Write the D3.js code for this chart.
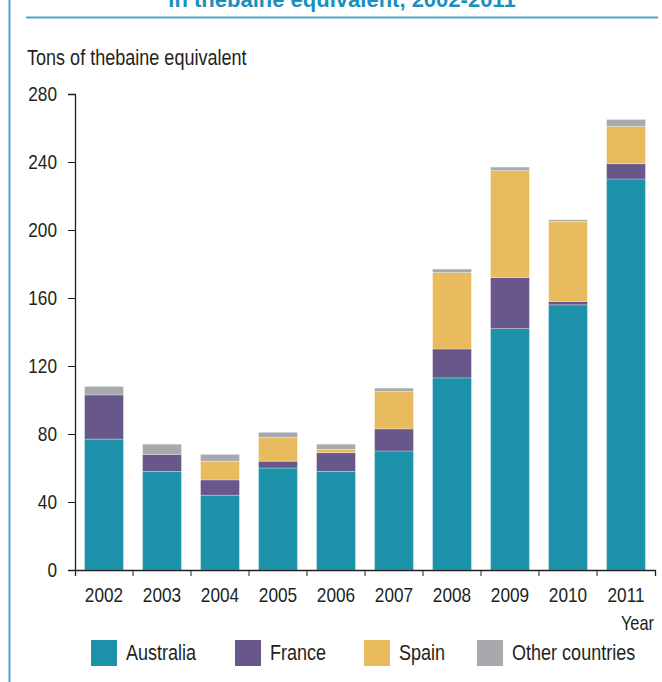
<!DOCTYPE html>
<html>
<head>
<meta charset="utf-8">
<script src="https://cdn.jsdelivr.net/npm/d3@7"></script>
<style>
  html, body { margin: 0; padding: 0; background: #fff; }
  svg { display: block; }
  text { font-family: "Liberation Sans", Arial, sans-serif; fill: #231f20; }
</style>
</head>
<body>
<svg id="chart" width="662" height="682"></svg>
<script>
const years = ["2002","2003","2004","2005","2006","2007","2008","2009","2010","2011"];
const seriesNames = ["Australia","France","Spain","Other countries"];
const australia = [77, 58, 44, 60, 58, 70, 113, 142, 156, 230];
const france    = [26, 10,  9,  4, 11, 13,  17,  30,   2,   9];
const spain     = [ 0,  0, 11, 14,  2, 22,  45,  63,  47,  22];
const other     = [ 5,  6,  4,  3,  3,  2,   2,   2,   1,   4];
const yTicks = [0, 40, 80, 120, 160, 200, 240, 280];
const colors = ["#1b92a9", "#68578a", "#e8bb5f", "#a8a9ad"];
const titleText = "in thebaine equivalent, 2002-2011";
const yTitle = "Tons of thebaine equivalent";
const xTitle = "Year";

const NARROW = 0.82; // emulate a condensed face by horizontal scaling
function condense(sel) {
  sel.each(function () {
    const t = d3.select(this);
    const xv = +t.attr("x") || 0;
    t.attr("x", xv / NARROW).attr("transform", `scale(${NARROW},1)`);
  });
}

const table = years.map((y, i) => ({
  year: y,
  "Australia": australia[i],
  "France": france[i],
  "Spain": spain[i],
  "Other countries": other[i]
}));

const svg = d3.select("#chart");

// frame decorations
svg.append("rect").attr("x", 8.5).attr("y", 0).attr("width", 2).attr("height", 682).attr("fill", "#4ba3c7");
svg.append("rect").attr("x", 26).attr("y", 16.5).attr("width", 632).attr("height", 2).attr("fill", "#4ba3c7");
svg.append("text").attr("x", 342).attr("y", 6.5).attr("text-anchor", "middle")
  .style("font-weight", "bold").style("font-size", "22px").style("fill", "#1a8fc0")
  .text(titleText);

const x = d3.scaleBand().domain(years).range([75, 655]).paddingInner(0.33).paddingOuter(0.165);
const y = d3.scaleLinear().domain([0, 280]).range([570, 94]);
const color = d3.scaleOrdinal().domain(seriesNames).range(colors);

const stacked = d3.stack().keys(seriesNames)(table);

svg.append("g").selectAll("g").data(stacked).join("g")
  .attr("fill", d => color(d.key))
  .selectAll("rect").data(d => d).join("rect")
  .attr("x", d => x(d.data.year))
  .attr("width", x.bandwidth())
  .attr("y", d => y(d[1]))
  .attr("height", d => y(d[0]) - y(d[1]))
  .attr("stroke", "rgba(255,255,255,0.35)")
  .attr("stroke-width", 0.8);

// y axis
const yAxis = svg.append("g").attr("transform", "translate(75,0)")
  .call(d3.axisLeft(y).tickValues(yTicks).tickSize(7).tickSizeOuter(7).tickPadding(11).tickFormat(d3.format("d")));
yAxis.selectAll("text").style("font-size", "21px").call(condense);

// x axis: labels at band centers, ticks at band boundaries
const xAxis = svg.append("g").attr("transform", "translate(0,570)")
  .call(d3.axisBottom(x).tickSize(0).tickSizeOuter(6).tickPadding(17));
xAxis.selectAll("text").style("font-size", "21px").call(condense);
const step = x.step();
const boundaries = years.slice(1).map(d => x(d) - x.paddingInner() * step / 2);
xAxis.selectAll("line.bnd").data(boundaries).join("line").attr("class", "bnd")
  .attr("x1", d => d).attr("x2", d => d).attr("y1", 0).attr("y2", 6)
  .attr("stroke", "#231f20");
svg.selectAll(".domain").attr("stroke", "#231f20").attr("stroke-width", 1.3);
svg.selectAll(".tick line").attr("stroke", "#231f20");

// axis titles
svg.append("text").attr("x", 27).attr("y", 65).style("font-size", "22px").text(yTitle).call(condense);
svg.append("text").attr("x", 654).attr("y", 630).attr("text-anchor", "end").style("font-size", "20px").text(xTitle).call(condense);

// legend
const legendX = [91, 235, 364, 477];
const lg = svg.append("g").selectAll("g").data(seriesNames).join("g")
  .attr("transform", (d, i) => `translate(${legendX[i]},640)`);
lg.append("rect").attr("width", 26).attr("height", 26).attr("fill", d => color(d));
lg.append("text").attr("x", 35).attr("y", 20).style("font-size", "22px").text(d => d).call(condense);
</script>
</body>
</html>
